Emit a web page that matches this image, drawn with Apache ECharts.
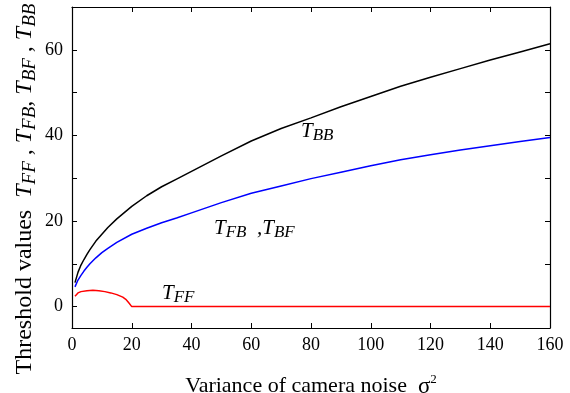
<!DOCTYPE html>
<html><head><meta charset="utf-8">
<script src="https://cdn.jsdelivr.net/npm/echarts@6/dist/echarts.min.js"></script>
<style>html,body{margin:0;padding:0;background:#fff}#c{width:570px;height:393px}</style>
</head><body><div id="c"></div>
<script>
// Data
const xValues = [1,2,3,4,5,6,8,10,12,15,20,25,30,35,40,50,60,70,80,90,100,110,120,130,140,150,160];
const tBB = [5.6,8.0,9.7,11.0,12.2,13.3,15.3,16.9,18.5,20.5,23.4,25.9,28.0,29.8,31.6,35.2,38.7,41.6,44.1,46.7,49.1,51.5,53.6,55.6,57.6,59.5,61.4];
const tFB = [4.6,6.2,7.3,8.3,9.2,10.0,11.4,12.6,13.6,15.0,16.9,18.3,19.6,20.7,21.9,24.3,26.5,28.2,29.9,31.4,32.9,34.3,35.5,36.6,37.6,38.6,39.5];
const tFFx = [1,2,3,5,7,9,11,13,15,17,18,19,20,40,60,80,100,120,140,160];
const tFF = [2.4,3.2,3.5,3.7,3.8,3.7,3.5,3.2,2.8,2.2,1.7,0.9,0,0,0,0,0,0,0,0];
const xTicks = [0,20,40,60,80,100,120,140,160];
const yTickLabels = [0,20,40,60];

const F = 'Liberation Serif';
const rich = {
  t: {fontFamily:F, fontStyle:'italic', fontSize:21, color:'#000'},
  s: {fontFamily:F, fontStyle:'italic', fontSize:17, color:'#000', padding:[8,0,0,0]}
};
const titleRich = {
  r: {fontFamily:F, fontSize:24, color:'#000'},
  t: {fontFamily:F, fontStyle:'italic', fontSize:24, color:'#000'},
  s: {fontFamily:F, fontStyle:'italic', fontSize:19, color:'#000', padding:[9,0,0,0]}
};
const chart = echarts.init(document.getElementById('c'), null, {renderer:'canvas'});
const axisCommon = {
  axisLine:{show:true, onZero:false, lineStyle:{color:'#000', width:1.2}},
  axisTick:{show:true, inside:true, length:5, lineStyle:{color:'#000', width:1}},
  splitLine:{show:false}
};
const pair = (xs, ys) => xs.map((x,i)=>[x, ys[i]]);
chart.setOption({
  animation:false,
  backgroundColor:'#fff',
  grid:{left:72, right:20, top:7, bottom:65, containLabel:false, outerBoundsMode:'none'},
  xAxis:[
    Object.assign({type:'value', min:0, max:160, interval:20, position:'bottom',
      axisLabel:{fontFamily:F, fontSize:18, color:'#000', margin:8,
        formatter:v => xTicks.includes(v) ? String(v) : ''},
      name:'{n|Variance of camera noise  }{g|σ}{p|2}', nameLocation:'middle', nameGap:45,
      nameTextStyle:{rich:{
        n:{fontFamily:F, fontSize:22, color:'#000'},
        g:{fontFamily:F, fontSize:23, color:'#000'},
        p:{fontFamily:F, fontSize:13, color:'#000', padding:[0,0,14,0]}
      }}}, axisCommon),
    Object.assign({type:'value', min:0, max:160, interval:20, position:'top',
      axisLabel:{show:false}}, axisCommon)
  ],
  yAxis:[
    Object.assign({type:'value', min:-5, max:70, splitNumber:8, position:'left',
      axisLabel:{fontFamily:F, fontSize:18, color:'#000', margin:9,
        formatter:v => yTickLabels.includes(v) ? String(v) : ''}}, axisCommon),
    Object.assign({type:'value', min:-5, max:70, splitNumber:8, position:'right',
      axisLabel:{show:false}}, axisCommon)
  ],
  series:[
    {type:'line', name:'TBB', data:pair(xValues,tBB), showSymbol:false, lineStyle:{color:'#000', width:1.5}},
    {type:'line', name:'TFB', data:pair(xValues,tFB), showSymbol:false, lineStyle:{color:'#0000ff', width:1.5}},
    {type:'line', name:'TFF', data:pair(tFFx,tFF), showSymbol:false, lineStyle:{color:'#ff0000', width:1.5}}
  ],
  graphic:[
    {type:'text', left:301, top:121, style:{text:'{t|T}{s|BB}', rich:rich}},
    {type:'text', left:214, top:218, style:{text:'{t|T}{s|FB}{t|  ,T}{s|BF}', rich:rich}},
    {type:'text', left:162, top:283, style:{text:'{t|T}{s|FF}', rich:rich}},
    {type:'text', x:25, y:189, rotation:Math.PI/2,
      style:{text:'{r|Threshold values  }{t|T}{s|FF}{r| , }{t|T}{s|FB}{r|, }{t|T}{s|BF}{r| , }{t|T}{s|BB}',
        rich:titleRich, align:'center', verticalAlign:'middle'}}
  ]
});
</script></body></html>
